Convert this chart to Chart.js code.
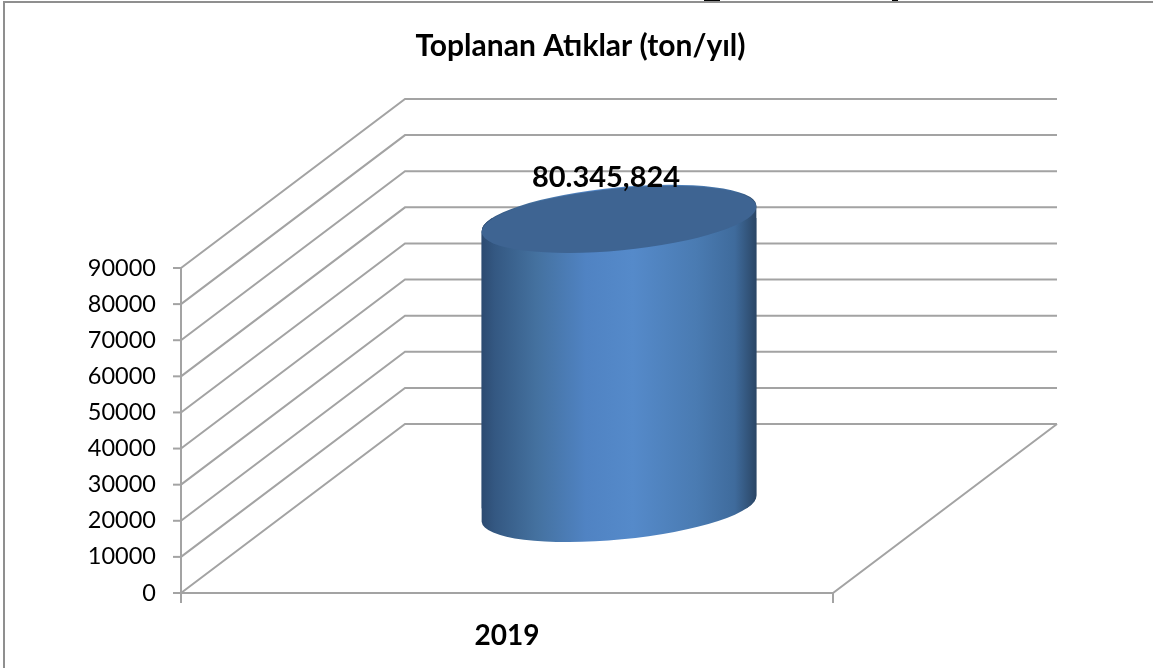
<!DOCTYPE html>
<html><head><meta charset="utf-8">
<style>html,body{margin:0;padding:0;background:#fff}#w{position:relative;width:1153px;height:668px}canvas{display:block}</style>
<script src="https://cdn.jsdelivr.net/npm/chart.js@4"></script>
</head><body><div id="w"><canvas id="c" width="1153" height="668"></canvas></div>
<script>
const categories = ["2019"];
const collected = [80345.824];
const valueLabels = ["80.345,824"];
const titleText = "Toplanan Atıklar (ton/yıl)";
const FONT = "Lato, Carlito, sans-serif";
const GRID = "#a3a3a3";
const DEPTH = {x: 224, y: -169};
const TILT = -5.5 * Math.PI / 180;
const RY = 31;

function sideGradient(ctx, l, r) {
  const g = ctx.createLinearGradient(l, 0, r, 0);
  g.addColorStop(0, "#2c4a70");
  g.addColorStop(0.05, "#345882");
  g.addColorStop(0.2, "#44719f");
  g.addColorStop(0.38, "#5083c3");
  g.addColorStop(0.55, "#558aca");
  g.addColorStop(0.78, "#4a7bb2");
  g.addColorStop(0.92, "#3f6b9c");
  g.addColorStop(1, "#2a4564");
  return g;
}

const cylinder3d = {
  id: "cylinder3d",
  beforeDraw(chart) {
    const {ctx, scales: {x, y}} = chart;
    const l = x.left, r = x.right, b = y.bottom;
    ctx.save();
    // frame of the slide and clipped descenders from the text above it
    ctx.strokeStyle = "#8f8f8f";
    ctx.lineWidth = 2;
    ctx.beginPath(); ctx.moveTo(4, 668); ctx.lineTo(4, 2); ctx.lineTo(1153, 2); ctx.stroke();
    ctx.fillStyle = "#000";
    ctx.fillRect(704, 0, 16, 1);
    ctx.fillRect(892, 0, 6, 1);
    ctx.strokeStyle = GRID;
    ctx.lineWidth = 2;
    // gridlines on left + back walls
    y.ticks.forEach(t => {
      const py = y.getPixelForValue(t.value);
      ctx.beginPath();
      ctx.moveTo(l, py);
      ctx.lineTo(l + DEPTH.x, py + DEPTH.y);
      ctx.lineTo(r + DEPTH.x, py + DEPTH.y);
      ctx.stroke();
      ctx.beginPath(); ctx.moveTo(l - 8, py); ctx.lineTo(l, py); ctx.stroke();
    });
    // floor + axes
    ctx.beginPath();
    ctx.moveTo(l, y.top); ctx.lineTo(l, b + 10);
    ctx.moveTo(l, b); ctx.lineTo(r, b); ctx.lineTo(r + DEPTH.x, b + DEPTH.y);
    ctx.moveTo(r, b); ctx.lineTo(r, b + 10);
    ctx.stroke();
    ctx.restore();
  },
  beforeDatasetDraw(chart, args) {
    const {ctx} = chart;
    const bar = chart.getDatasetMeta(args.index).data[0];
    const w = bar.width / 2;
    ctx.save();
    ctx.translate(DEPTH.x / 2, DEPTH.y / 2);
    // clip to the cylinder silhouette, then the library's bar fills it
    const p = new Path2D();
    p.ellipse(bar.x, bar.y, w, RY, TILT, Math.PI, 0, false);
    p.ellipse(bar.x, bar.base, w, RY, TILT, 0, Math.PI, false);
    p.closePath();
    ctx.fillStyle = sideGradient(ctx, bar.x - w, bar.x + w);
    ctx.fill(p);
    ctx.clip(p);
  },
  afterDatasetDraw(chart, args) {
    const {ctx} = chart;
    const bar = chart.getDatasetMeta(args.index).data[0];
    const w = bar.width / 2;
    ctx.restore();
    const cx = bar.x + DEPTH.x / 2, cy = bar.y + DEPTH.y / 2;
    ctx.save();
    ctx.fillStyle = "#3e6492";
    ctx.beginPath();
    ctx.ellipse(cx, cy + 1, w, RY, TILT, 0, Math.PI * 2);
    ctx.fill();
    ctx.fillStyle = "#000";
    ctx.font = "bold 29px " + FONT;
    ctx.textAlign = "center";
    ctx.textBaseline = "middle";
    ctx.fillText(valueLabels[args.index], cx - 13, cy - 41);
    ctx.restore();
  }
};

new Chart(document.getElementById("c"), {
  type: "bar",
  data: {
    labels: categories,
    datasets: [{
      label: "Toplanan Atıklar",
      data: collected,
      yAxisID: "y",
      barThickness: 276,
      borderWidth: 0,
      backgroundColor(c) {
        const a = c.chart.chartArea;
        if (!a) return "#4f81bd";
        const m = (a.left + a.right) / 2;
        return sideGradient(c.chart.ctx, m - 138, m + 138);
      }
    }]
  },
  options: {
    responsive: false,
    animation: false,
    layout: {padding: {left: 8, right: 0, top: 0, bottom: 15}},
    plugins: {
      legend: {display: false},
      tooltip: {enabled: false},
      title: {
        display: true,
        text: titleText,
        color: "#000",
        font: {family: FONT, size: 30, weight: "bold"},
        padding: {top: 28, bottom: 204}
      }
    },
    scales: {
      x: {
        afterFit(s) { s.height = 60; },
        grid: {display: false},
        border: {display: false},
        ticks: {color: "#000", font: {family: FONT, size: 28, weight: "bold"}, padding: 18, maxRotation: 0}
      },
      y: {
        min: 0, max: 90000,
        afterFit(s) { s.width = 173; },
        grid: {display: false},
        border: {display: false},
        ticks: {stepSize: 10000, color: "#000", font: {family: FONT, size: 23.5}, padding: 17, callback: v => String(v)}
      },
      spare: {
        position: "right",
        min: 0, max: 1,
        afterFit(s) { s.width = 320; },
        grid: {display: false},
        border: {display: false},
        ticks: {display: false}
      }
    }
  },
  plugins: [cylinder3d]
});
</script></body></html>
